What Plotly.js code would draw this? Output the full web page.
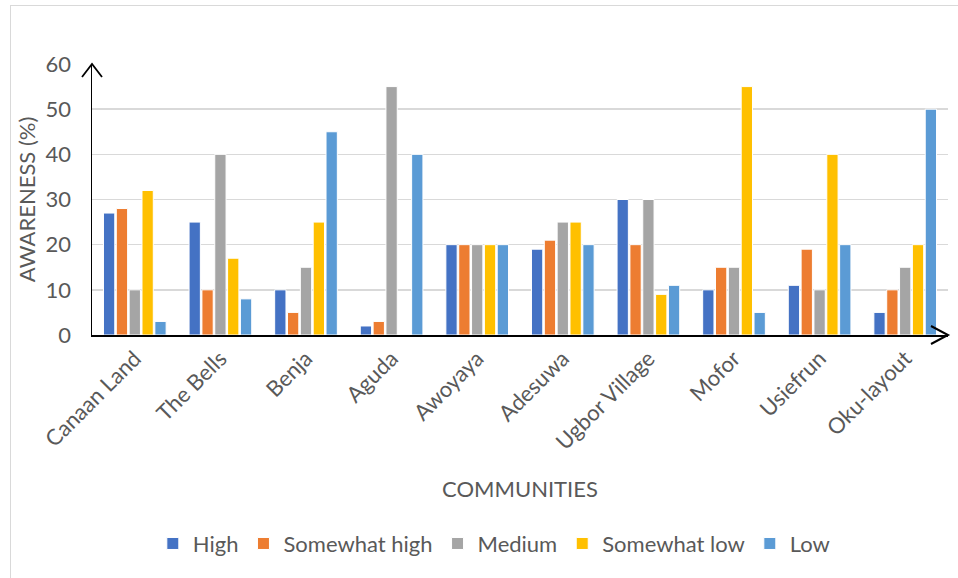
<!DOCTYPE html>
<html>
<head>
<meta charset="utf-8">
<script src="https://cdn.plot.ly/plotly-3.0.1.min.js"></script>
<style>
  html, body { margin: 0; padding: 0; background: #fff; }
  #wrap { position: relative; width: 958px; height: 578px; overflow: hidden; }
  #frame { position: absolute; left: 10px; top: 5px; width: 960px; height: 590px;
           border: 1px solid #d9d9d9; box-sizing: border-box; pointer-events: none; }
  #chart { position: absolute; left: 0; top: 0; width: 958px; height: 578px; }
</style>
</head>
<body>
<div id="wrap">
  <div id="chart"></div>
  <div id="frame"></div>
</div>
<script>
// Communities surveyed
const communities = ["Canaan Land", "The Bells", "Benja", "Aguda", "Awoyaya",
                     "Adesuwa", "Ugbor Village", "Mofor", "Usiefrun", "Oku-layout"];

// Awareness level shares (%) per community
const high         = [27, 25, 10,  2, 20, 19, 30, 10, 11,  5];
const somewhatHigh = [28, 10,  5,  3, 20, 21, 20, 15, 19, 10];
const medium       = [10, 40, 15, 55, 20, 25, 30, 15, 10, 15];
const somewhatLow  = [32, 17, 25,  0, 20, 25,  9, 55, 40, 20];
const low          = [ 3,  8, 45, 40, 20, 20, 11,  5, 20, 50];

const seriesNames  = ["High", "Somewhat high", "Medium", "Somewhat low", "Low"];
const seriesValues = [high, somewhatHigh, medium, somewhatLow, low];
const seriesColors = ["#4472C4", "#ED7D31", "#A5A5A5", "#FFC000", "#5B9BD5"];

const textColor = "#595959";
const fontFamily = "Lato, 'Open Sans', 'DejaVu Sans', sans-serif";

const traces = seriesNames.map((name, i) => ({
  type: "bar",
  name: name,
  x: communities,
  y: seriesValues[i],
  marker: { color: seriesColors[i], line: { color: "#ffffff", width: 1 } },
  hoverinfo: "x+y+name"
}));

const layout = {
  width: 958,
  height: 578,
  margin: { l: 92, r: 10, t: 64, b: 243 },
  paper_bgcolor: "rgba(0,0,0,0)",
  plot_bgcolor: "#ffffff",
  font: { family: fontFamily, color: textColor, size: 22 },
  barmode: "group",
  bargap: 0.25,
  bargroupgap: 0.12,
  xaxis: {
    type: "category",
    tickangle: -45,
    tickfont: { size: 22, color: textColor },
    showline: true,
    linecolor: "#000000",
    linewidth: 2,
    ticks: "",
    showgrid: false,
    title: { text: "COMMUNITIES", font: { size: 22, color: textColor }, standoff: 28 }
  },
  yaxis: {
    range: [0, 60],
    dtick: 10,
    tickfont: { size: 22, color: textColor },
    showline: true,
    linecolor: "#000000",
    linewidth: 1.5,
    ticks: "",
    ticklabelstandoff: 15,
    gridcolor: "#d9d9d9",
    gridwidth: 1.5,
    zeroline: false,
    title: { text: "AWARENESS (%)", font: { size: 22, color: textColor }, standoff: 4 }
  },
  legend: {
    orientation: "h",
    x: 0.47,
    xanchor: "center",
    y: -0.77,
    yanchor: "middle",
    font: { size: 22, color: textColor },
    itemwidth: 30,
    traceorder: "normal"
  },
  shapes: [
    // arrowhead on top of the value axis
    {
      type: "path",
      xref: "paper", yref: "paper",
      xsizemode: "pixel", ysizemode: "pixel",
      xanchor: 0, yanchor: 1,
      path: "M-10,-13 L0,0 L10,-13",
      line: { color: "#000000", width: 1.8 }
    },
    // arrowhead at the end of the category axis
    {
      type: "path",
      xref: "paper", yref: "paper",
      xsizemode: "pixel", ysizemode: "pixel",
      xanchor: 1, yanchor: 0,
      path: "M-17,9 L0,0 L-17,-9",
      line: { color: "#000000", width: 2 }
    }
  ]
};

Plotly.newPlot("chart", traces, layout, { displayModeBar: false, staticPlot: true });
</script>
</body>
</html>
